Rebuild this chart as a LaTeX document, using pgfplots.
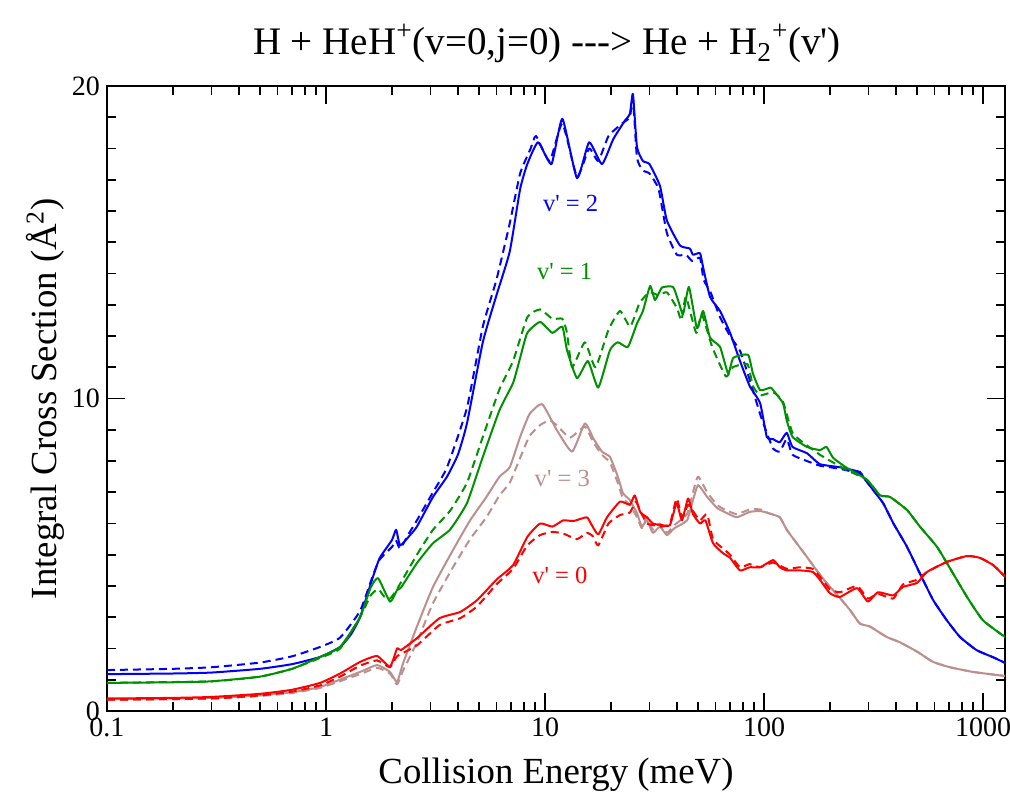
\documentclass[border=0pt]{standalone}
\usepackage{pgfplots}
\pgfplotsset{compat=1.18}
\usepackage{fontspec}
\setmainfont{Liberation Serif}[Ligatures=TeXOff]
\usetikzlibrary{calc}
\definecolor{vblue}{RGB}{0,0,255}
\definecolor{vgreen}{RGB}{0,145,0}
\definecolor{vred}{RGB}{255,0,0}
\definecolor{vbrown}{RGB}{188,143,143}
\begin{document}
\begin{tikzpicture}
\begin{axis}[
  scale only axis, width=449pt, height=312.5pt,
  xmode=log, xmin=0.1, xmax=1260, ymin=0, ymax=20,
  xtick={0.1,1,10,100,1000}, xticklabels={0.1,1,10,100,1000},
  ytick={0,10,20}, minor y tick num=9,
  tick align=inside, major tick length=9pt, minor tick length=4.5pt,
  every tick/.style={black, line width=0.9pt},
  axis line style={line width=1pt},
  /pgf/number format/assume math mode=true,
  tick label style={font=\fontsize{14}{16}\selectfont},
  xlabel={Collision Energy (meV)},
  ylabel={Integral Cross Section (Å\textsuperscript{2})},
  label style={font=\fontsize{18.4}{22}\selectfont},
  xlabel style={at={(axis description cs:0.5,0)}, anchor=center, yshift=-32pt},
  ylabel style={at={(axis description cs:0,0.5)}, anchor=center, yshift=31pt},
  clip=true,
  every axis plot/.append style={line width=1pt, line join=round, smooth, tension=0.3},
]
\coordinate (SW) at (rel axis cs:0,0);
\coordinate (NE) at (rel axis cs:1,1);
\coordinate (T) at (rel axis cs:0.5,1);
% v'=2 solid
\addplot[vblue] coordinates {(0.1,1.18)(0.2,1.2)(0.3,1.23)(0.5,1.35)(0.7,1.5)(0.94,1.73)(1.16,2.05)(1.3,2.45)(1.43,3.0)(1.64,4.3)(1.76,4.9)(2.0,5.47)(2.09,5.8)(2.18,5.3)(2.4,5.6)(2.6,5.9)(3.08,6.85)(3.57,7.5)(4.0,8.2)(4.4,9.2)(5.2,11.8)(6.0,13.3)(6.9,14.7)(7.7,16.7)(8.3,17.5)(9.3,18.2)(10.7,17.5)(12.0,18.95)(14.0,17.05)(15.9,18.2)(18.2,17.5)(20.5,18.3)(23.2,18.9)(24.4,19.1)(25.2,19.75)(26.3,18.05)(28,17.6)(30,17.5)(33.5,16.8)(36,15.7)(41.3,14.9)(45.8,14.8)(47.4,14.6)(51,14.65)(52.7,14.2)(56.7,13.25)(63,12.8)(70,12.1)(77.7,11.2)(86,10.4)(96,9.85)(103,8.77)(110,8.7)(118,8.6)(127,8.9)(135,8.45)(157,8.25)(180,7.9)(222,7.8)(274,7.65)(283,7.5)(315,7.07)(350,6.65)(390,6.0)(450,5.25)(515,4.4)(592,3.55)(684,2.9)(785,2.37)(934,1.95)(1112,1.72)(1260,1.54)};
\addplot[vblue, dash pattern=on 4pt off 2.5pt] coordinates {(0.1,1.31)(0.2,1.35)(0.3,1.4)(0.5,1.55)(0.7,1.75)(0.94,2.05)(1.16,2.35)(1.43,3.2)(1.64,4.35)(1.76,4.85)(2.0,5.25)(2.09,5.45)(2.18,5.2)(2.4,5.7)(2.6,6.1)(3.08,7.0)(3.57,7.8)(4.4,9.7)(5.2,12.3)(6.0,13.8)(6.9,15.6)(7.7,17.2)(8.6,18.0)(9.1,18.4)(10.5,17.6)(12.0,18.8)(14.0,17.1)(15.9,18.0)(17.5,17.6)(19.5,18.4)(22.5,18.8)(24.4,19.0)(25.2,19.6)(26.3,17.7)(28,17.3)(30,17.2)(33,16.7)(36,15.3)(40,14.6)(44,14.6)(47,14.4)(51,14.5)(53,13.8)(57,13.4)(63,12.6)(70,12.0)(78,11.5)(86,10.6)(96,9.5)(103,8.9)(110,8.4)(118,8.3)(127,8.7)(135,8.2)(157,8.0)(180,7.85)(222,7.75)(274,7.6)(283,7.5)(315,7.07)(350,6.65)(390,6.0)(450,5.25)(515,4.4)(592,3.55)(684,2.9)(785,2.37)(934,1.95)(1112,1.72)(1260,1.54)};
% v'=1
\addplot[vgreen] coordinates {(0.1,0.9)(0.2,0.92)(0.3,0.95)(0.5,1.1)(0.7,1.35)(0.94,1.73)(1.16,2.05)(1.43,3.0)(1.6,3.95)(1.73,4.25)(1.96,3.5)(2.11,3.87)(2.2,3.95)(2.6,4.73)(3.08,5.37)(3.68,5.8)(4.4,6.65)(5.2,8.13)(6.2,9.63)(7.15,10.5)(7.7,11.3)(8.3,12.1)(9.5,12.45)(10.8,12.1)(12.0,12.3)(12.6,11.55)(14.0,10.65)(15.7,11.2)(17.5,10.35)(19.8,11.55)(21.5,11.8)(23.9,11.65)(26.3,12.4)(28,12.8)(30.2,13.6)(31.8,13.15)(34.2,13.55)(38.4,13.57)(40.5,13.15)(42.7,12.7)(45.4,13.57)(49.4,12.25)(52.7,12.8)(56.7,11.95)(63,11.65)(68.6,10.8)(72.4,11.3)(84.5,11.4)(89,10.8)(96,10.27)(107,10.35)(110,10.27)(122,9.85)(127,9.3)(135,8.77)(157,8.45)(180,8.35)(193,8.45)(207,8.1)(240,7.77)(295,7.4)(339,6.9)(376,6.85)(450,6.43)(515,5.9)(617,5.25)(730,4.4)(845,3.65)(1000,2.9)(1260,2.37)};
\addplot[vgreen, dash pattern=on 4pt off 2.5pt] coordinates {(0.1,0.9)(0.3,0.95)(0.5,1.1)(0.7,1.35)(0.94,1.7)(1.16,2.0)(1.43,3.0)(1.6,3.7)(1.73,3.9)(1.85,3.65)(1.96,3.6)(2.11,3.9)(2.6,5.0)(3.08,5.8)(3.68,6.4)(4.4,7.3)(5.2,8.77)(6.2,10.3)(7.15,11.2)(8.3,12.6)(9.5,12.85)(10.8,12.55)(12.0,12.55)(12.6,12.1)(13.3,11.0)(15.2,11.8)(17,11.0)(19.5,12.2)(22,12.8)(24.5,12.3)(27,13.05)(30,13.4)(33,13.3)(36,13.4)(40,12.9)(42,12.5)(44,13.25)(49,12.1)(52,12.7)(58,11.65)(67,10.7)(72,11.0)(84,11.1)(89,10.4)(96,10.1)(110,10.2)(122,9.9)(135,8.9)(157,8.5)(180,8.2)(207,7.95)(240,7.7)(295,7.4)(339,6.9)(376,6.85)(450,6.43)(515,5.9)(617,5.25)(730,4.4)(845,3.65)(1000,2.9)(1260,2.37)};
% v'=3
\addplot[vbrown] coordinates {(0.1,0.38)(0.3,0.42)(0.5,0.5)(0.7,0.6)(0.94,0.77)(1.43,1.25)(1.71,1.47)(1.96,1.25)(2.11,0.93)(2.25,1.53)(2.6,2.7)(3.08,3.97)(3.8,5.15)(4.55,6.1)(5.4,6.85)(6.2,7.5)(6.9,7.8)(7.7,8.77)(8.5,9.5)(9.7,9.82)(11.3,9.0)(13.3,8.3)(15.2,9.2)(16.6,8.73)(18.2,8.3)(19.8,8.13)(21.5,7.5)(22.7,6.97)(24.4,6.75)(26.3,6.33)(27.7,5.9)(29.2,6.1)(31.1,5.7)(33.5,5.9)(36,5.63)(39,5.85)(44.5,6.1)(47.4,6.75)(50,7.23)(55,6.85)(61,6.5)(66,6.37)(75,6.2)(86,6.37)(96,6.4)(105,6.33)(118,6.2)(127,5.8)(141,5.37)(157,4.93)(174,4.5)(193,4.1)(222,3.62)(247,3.23)(274,2.8)(305,2.7)(363,2.37)(417,2.2)(500,1.9)(592,1.57)(707,1.4)(901,1.25)(1260,1.12)};
\addplot[vbrown, dash pattern=on 4pt off 2.5pt] coordinates {(0.1,0.35)(0.3,0.4)(0.5,0.48)(0.7,0.58)(0.94,0.74)(1.43,1.18)(1.71,1.38)(1.96,1.2)(2.11,0.85)(2.25,1.3)(2.6,2.2)(3.08,3.45)(3.8,4.6)(4.55,5.5)(5.4,6.2)(6.2,6.9)(6.9,7.3)(7.7,8.1)(8.5,8.8)(9.5,9.15)(10.5,9.3)(11.3,9.15)(13.0,8.75)(15.2,9.1)(16.6,8.6)(18.2,8.2)(19.8,7.95)(21.5,7.3)(22.7,6.8)(24.4,6.6)(26.3,6.2)(27.7,5.85)(29.2,6.2)(31.1,5.8)(33.5,6.0)(36,5.7)(39,5.95)(44.5,6.3)(47.4,7.0)(50,7.5)(55,7.0)(61,6.6)(66,6.45)(75,6.3)(86,6.45)(96,6.45)(105,6.33)(118,6.2)(127,5.8)(141,5.37)(157,4.93)(174,4.5)(193,4.1)(222,3.62)(247,3.23)(274,2.8)(305,2.7)(363,2.37)(417,2.2)(500,1.9)(592,1.57)(707,1.4)(901,1.25)(1260,1.12)};
% v'=0
\addplot[vred] coordinates {(0.1,0.4)(0.2,0.42)(0.3,0.45)(0.5,0.55)(0.7,0.68)(0.94,0.9)(1.16,1.2)(1.43,1.57)(1.71,1.76)(1.96,1.42)(2.11,2.0)(2.2,1.95)(2.6,2.33)(3.3,2.97)(4.1,3.17)(4.9,3.55)(6.0,4.2)(7.15,4.67)(8.3,5.57)(9.5,6.0)(10.8,5.9)(12.1,6.1)(13.5,6.08)(15.5,6.2)(16.2,6.0)(17.5,5.65)(19.2,6.2)(22,6.7)(24.4,6.6)(25.7,6.9)(27.2,6.37)(29.2,6.2)(31.1,6.0)(34,5.95)(37.2,5.95)(39.9,6.65)(42.2,6.1)(45,6.8)(47.4,6.3)(51,6.0)(54,6.1)(58.5,5.37)(65,5.05)(70,4.9)(77.7,4.5)(86,4.6)(96,4.6)(110,4.83)(118,4.6)(127,4.5)(146,4.5)(167,4.45)(180,4.2)(200,3.77)(222,3.65)(266,3.93)(298,3.5)(331,3.8)(389,3.7)(431,3.97)(500,4.1)(555,4.45)(684,4.77)(845,4.96)(968,4.9)(1112,4.67)(1260,4.3)};
\addplot[vred, dash pattern=on 4pt off 2.5pt] coordinates {(0.1,0.36)(0.3,0.4)(0.5,0.5)(0.7,0.62)(0.94,0.82)(1.16,1.1)(1.43,1.45)(1.71,1.62)(1.96,1.4)(2.11,1.75)(2.6,2.1)(3.3,2.75)(4.1,2.97)(4.9,3.35)(6.0,4.05)(7.15,4.55)(8.3,5.3)(9.5,5.63)(10.8,5.73)(12.1,5.68)(14,5.5)(15.5,5.7)(16.5,5.6)(17.5,5.3)(19.5,6.0)(22,6.27)(24.4,6.35)(26,6.7)(27.2,6.4)(29.2,6.0)(31.1,5.95)(34,5.9)(37.2,6.0)(39.9,6.8)(42.2,6.2)(45,6.6)(47.4,6.4)(51,6.1)(55,6.3)(58.5,5.5)(65,5.2)(70,5.0)(77.7,4.6)(86,4.7)(96,4.6)(110,4.75)(127,4.55)(146,4.6)(167,4.55)(180,4.3)(200,3.9)(222,3.8)(266,4.0)(298,3.6)(331,3.75)(389,3.6)(431,4.05)(500,4.2)(555,4.45)(684,4.77)(845,4.96)(968,4.9)(1112,4.67)(1260,4.3)};
\node[text=vblue, font=\fontsize{12.3}{15}\selectfont] at (axis cs:13.1,16.25) {v' = 2};
\node[text=vgreen, font=\fontsize{12.3}{15}\selectfont] at (axis cs:12.3,14.05) {v' = 1};
\node[text=vbrown, font=\fontsize{12.3}{15}\selectfont] at (axis cs:12.0,7.45) {v' = 3};
\node[text=vred, font=\fontsize{12.3}{15}\selectfont] at (axis cs:11.7,4.35) {v' = 0};
\end{axis}
\node[anchor=base, font=\fontsize{19.5}{24}\selectfont] at ([yshift=15.5pt, xshift=-4.5pt]T) {H + HeH\textsuperscript{+}(v=0,j=0) ---> He + H\textsubscript{2}\textsuperscript{+}(v')};
\pgfresetboundingbox
\path[use as bounding box] ($(SW)+(-53.5pt,-46.5pt)$) rectangle ($(NE)+(2.5pt,43pt)$);
\end{tikzpicture}
\end{document}
